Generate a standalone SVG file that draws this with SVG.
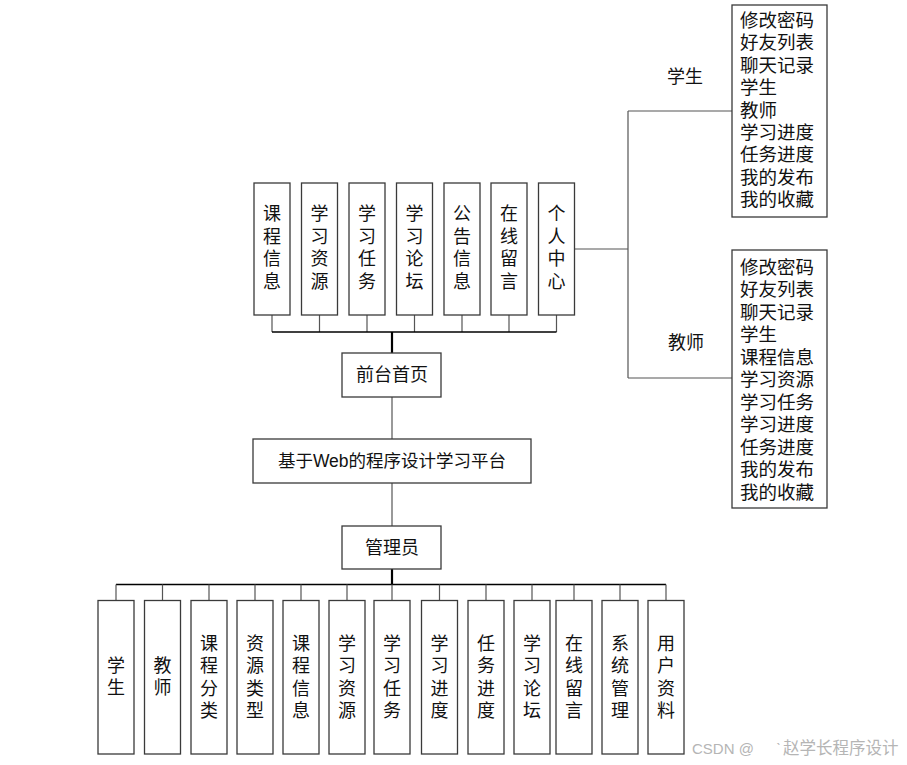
<svg xmlns="http://www.w3.org/2000/svg" width="907" height="765" viewBox="0 0 907 765">
<style>
.box{fill:#fff;stroke:#3a3a3a;stroke-width:1.3}
.t{font-family:"Liberation Sans","Noto Sans CJK SC",sans-serif;font-size:18px;fill:#111;text-anchor:middle;dominant-baseline:central}
.l{font-family:"Liberation Sans","Noto Sans CJK SC",sans-serif;font-size:18.5px;fill:#111;dominant-baseline:central}
.ln{stroke:#555;stroke-width:1.2;fill:none}
.bus{stroke:#000;stroke-width:1.5;fill:none}
.thick{stroke:#000;stroke-width:2.2;fill:none}
.wm{font-family:"Liberation Sans","Noto Sans CJK SC",sans-serif;font-size:15px;fill:#b5b5b5}
</style>
<rect width="907" height="765" fill="#fff"/>
<g id="connectors">
<path class="ln" d="M272 315V332M319.5 315V332M367 315V332M414.5 315V332M462 315V332M509 315V332M556.5 315V332"/>
<path class="bus" d="M272 332H556.5"/>
<path class="thick" d="M392 332V353"/>
<path class="ln" d="M392 397V439"/>
<path class="ln" d="M392 483V526"/>
<path class="thick" d="M392 569V585"/>
<path class="bus" d="M116 584.5H666"/>
<path class="ln" d="M116 584.5V600.5M162.5 584.5V600.5M209 584.5V600.5M255 584.5V600.5M301 584.5V600.5M347 584.5V600.5M392 584.5V600.5M439.5 584.5V600.5M486 584.5V600.5M532 584.5V600.5M574 584.5V600.5M620 584.5V600.5M666 584.5V600.5"/>
<path class="ln" d="M574 249H628M628 111V378M628 111H732M628 378H732"/>
</g>
<g id="top-nodes">
<g id="n-kcxx"><rect class="box" x="254" y="183" width="36" height="132"/><text class="t"><tspan x="272" y="214">课</tspan><tspan x="272" y="237">程</tspan><tspan x="272" y="259">信</tspan><tspan x="272" y="282">息</tspan></text></g>
<g id="n-xxzy"><rect class="box" x="301.5" y="183" width="36" height="132"/><text class="t"><tspan x="319.5" y="214">学</tspan><tspan x="319.5" y="237">习</tspan><tspan x="319.5" y="259">资</tspan><tspan x="319.5" y="282">源</tspan></text></g>
<g id="n-xxrw"><rect class="box" x="349" y="183" width="36" height="132"/><text class="t"><tspan x="367" y="214">学</tspan><tspan x="367" y="237">习</tspan><tspan x="367" y="259">任</tspan><tspan x="367" y="282">务</tspan></text></g>
<g id="n-xxlt"><rect class="box" x="396.5" y="183" width="36" height="132"/><text class="t"><tspan x="414.5" y="214">学</tspan><tspan x="414.5" y="237">习</tspan><tspan x="414.5" y="259">论</tspan><tspan x="414.5" y="282">坛</tspan></text></g>
<g id="n-ggxx"><rect class="box" x="444" y="183" width="36" height="132"/><text class="t"><tspan x="462" y="214">公</tspan><tspan x="462" y="237">告</tspan><tspan x="462" y="259">信</tspan><tspan x="462" y="282">息</tspan></text></g>
<g id="n-zxly"><rect class="box" x="491" y="183" width="36" height="132"/><text class="t"><tspan x="509" y="214">在</tspan><tspan x="509" y="237">线</tspan><tspan x="509" y="259">留</tspan><tspan x="509" y="282">言</tspan></text></g>
<g id="n-grzx"><rect class="box" x="538.5" y="183" width="36" height="132"/><text class="t"><tspan x="556.5" y="214">个</tspan><tspan x="556.5" y="237">人</tspan><tspan x="556.5" y="259">中</tspan><tspan x="556.5" y="282">心</tspan></text></g>
</g>
<g id="n-qtsy"><rect class="box" x="342" y="353" width="99" height="44"/><text class="t" x="392" y="375">前台首页</text></g>
<g id="n-root"><rect class="box" x="253" y="439" width="278" height="44"/><text class="t" x="392" y="461" style="font-size:17.5px">基于Web的程序设计学习平台</text></g>
<g id="n-gly"><rect class="box" x="342" y="526" width="99" height="43"/><text class="t" x="392" y="547.5">管理员</text></g>
<g id="n-student-label"><text class="t" x="685" y="77">学生</text></g>
<g id="n-student"><rect class="box" x="732" y="5" width="95" height="212"/>
<text class="l"><tspan x="740" y="20">修改密码</tspan><tspan x="740" y="42.4">好友列表</tspan><tspan x="740" y="64.8">聊天记录</tspan><tspan x="740" y="87.2">学生</tspan><tspan x="740" y="109.6">教师</tspan><tspan x="740" y="132">学习进度</tspan><tspan x="740" y="154.4">任务进度</tspan><tspan x="740" y="176.8">我的发布</tspan><tspan x="740" y="199.2">我的收藏</tspan></text></g>
<g id="n-teacher-label"><text class="t" x="686" y="343">教师</text></g>
<g id="n-teacher"><rect class="box" x="732" y="250" width="95" height="258"/>
<text class="l"><tspan x="740" y="266.7">修改密码</tspan><tspan x="740" y="289.2">好友列表</tspan><tspan x="740" y="311.7">聊天记录</tspan><tspan x="740" y="334.2">学生</tspan><tspan x="740" y="356.7">课程信息</tspan><tspan x="740" y="379.2">学习资源</tspan><tspan x="740" y="401.7">学习任务</tspan><tspan x="740" y="424.2">学习进度</tspan><tspan x="740" y="446.7">任务进度</tspan><tspan x="740" y="469.2">我的发布</tspan><tspan x="740" y="491.7">我的收藏</tspan></text></g>
<g id="bottom-nodes">
<g id="b1"><rect class="box" x="98" y="600.5" width="36" height="153.5"/><text class="t"><tspan x="116" y="666">学</tspan><tspan x="116" y="688">生</tspan></text></g>
<g id="b2"><rect class="box" x="144.5" y="600.5" width="36" height="153.5"/><text class="t"><tspan x="162.5" y="666">教</tspan><tspan x="162.5" y="688">师</tspan></text></g>
<g id="b3"><rect class="box" x="191" y="600.5" width="36" height="153.5"/><text class="t"><tspan x="209" y="643.5">课</tspan><tspan x="209" y="666">程</tspan><tspan x="209" y="688.5">分</tspan><tspan x="209" y="711">类</tspan></text></g>
<g id="b4"><rect class="box" x="237" y="600.5" width="36" height="153.5"/><text class="t"><tspan x="255" y="643.5">资</tspan><tspan x="255" y="666">源</tspan><tspan x="255" y="688.5">类</tspan><tspan x="255" y="711">型</tspan></text></g>
<g id="b5"><rect class="box" x="283" y="600.5" width="36" height="153.5"/><text class="t"><tspan x="301" y="643.5">课</tspan><tspan x="301" y="666">程</tspan><tspan x="301" y="688.5">信</tspan><tspan x="301" y="711">息</tspan></text></g>
<g id="b6"><rect class="box" x="329" y="600.5" width="36" height="153.5"/><text class="t"><tspan x="347" y="643.5">学</tspan><tspan x="347" y="666">习</tspan><tspan x="347" y="688.5">资</tspan><tspan x="347" y="711">源</tspan></text></g>
<g id="b7"><rect class="box" x="374" y="600.5" width="36" height="153.5"/><text class="t"><tspan x="392" y="643.5">学</tspan><tspan x="392" y="666">习</tspan><tspan x="392" y="688.5">任</tspan><tspan x="392" y="711">务</tspan></text></g>
<g id="b8"><rect class="box" x="421.5" y="600.5" width="36" height="153.5"/><text class="t"><tspan x="439.5" y="643.5">学</tspan><tspan x="439.5" y="666">习</tspan><tspan x="439.5" y="688.5">进</tspan><tspan x="439.5" y="711">度</tspan></text></g>
<g id="b9"><rect class="box" x="468" y="600.5" width="36" height="153.5"/><text class="t"><tspan x="486" y="643.5">任</tspan><tspan x="486" y="666">务</tspan><tspan x="486" y="688.5">进</tspan><tspan x="486" y="711">度</tspan></text></g>
<g id="b10"><rect class="box" x="514" y="600.5" width="36" height="153.5"/><text class="t"><tspan x="532" y="643.5">学</tspan><tspan x="532" y="666">习</tspan><tspan x="532" y="688.5">论</tspan><tspan x="532" y="711">坛</tspan></text></g>
<g id="b11"><rect class="box" x="556" y="600.5" width="36" height="153.5"/><text class="t"><tspan x="574" y="643.5">在</tspan><tspan x="574" y="666">线</tspan><tspan x="574" y="688.5">留</tspan><tspan x="574" y="711">言</tspan></text></g>
<g id="b12"><rect class="box" x="602" y="600.5" width="36" height="153.5"/><text class="t"><tspan x="620" y="643.5">系</tspan><tspan x="620" y="666">统</tspan><tspan x="620" y="688.5">管</tspan><tspan x="620" y="711">理</tspan></text></g>
<g id="b13"><rect class="box" x="648" y="600.5" width="36" height="153.5"/><text class="t"><tspan x="666" y="643.5">用</tspan><tspan x="666" y="666">户</tspan><tspan x="666" y="688.5">资</tspan><tspan x="666" y="711">料</tspan></text></g>
</g>
<text class="wm" x="692" y="754">CSDN @ <tspan x="776">ˋ</tspan><tspan x="783" style="font-size:16.5px">赵学长程序设计</tspan></text>
</svg>
